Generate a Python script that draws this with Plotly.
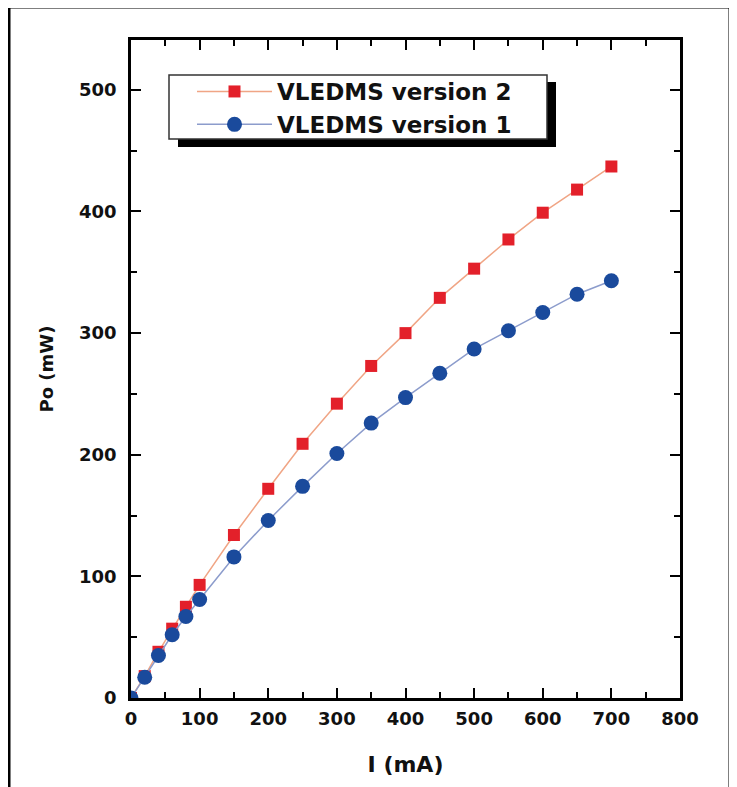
import plotly.graph_objects as go

# data
current = [0, 20, 40, 60, 80, 100, 150, 200, 250, 300, 350, 400, 450, 500, 550, 600, 650, 700]
po_v2 = [0, 18, 38, 57, 75, 93, 134, 172, 209, 242, 273, 300, 329, 353, 377, 399, 418, 437]
po_v1 = [0, 17, 35, 52, 67, 81, 116, 146, 174, 201, 226, 247, 267, 287, 302, 317, 332, 343]

# page has an 8px body margin, so the figure is drawn 8px in from the corner
OFF = 8
W, H = 737 - 2 * OFF, 787 - OFF
L, R, T = 131 - OFF, 737 - 680 - OFF, 40 - OFF
B = H - (698 - OFF)
pw, ph = W - L - R, H - T - B


def px_x(p):
    # screen pixel of the reference -> paper x
    return (p - OFF - L) / pw


def px_y(p):
    return (H - B - (p - OFF)) / ph


bold = dict(family="DejaVu Sans", color="#111", weight="bold")

fig = go.Figure()
fig.add_trace(go.Scatter(
    x=current, y=po_v2, name="VLEDMS version 2", mode="lines+markers",
    line=dict(color="#f0a585", width=1.5),
    marker=dict(symbol="square", size=12, color="#e3202a"),
))
fig.add_trace(go.Scatter(
    x=current, y=po_v1, name="VLEDMS version 1", mode="lines+markers",
    line=dict(color="#8c9ccc", width=1.5),
    marker=dict(symbol="circle", size=15, color="#1a4a9c"),
))

axis = dict(
    showline=True, linecolor="black", linewidth=2.5, mirror="allticks",
    ticks="inside", ticklen=10, tickwidth=2, tickcolor="black",
    showgrid=False, zeroline=False, automargin=False,
    tickfont=dict(size=18, **bold),
    minor=dict(ticks="inside", ticklen=6, tickwidth=2, tickcolor="black", dtick=50),
    dtick=100,
)

fig.update_xaxes(axis, range=[0, 800], ticklabelstandoff=3,
                 title=dict(text="I (mA)", font=dict(size=22, **bold), standoff=29))
fig.update_yaxes(axis, range=[0, 541], ticklabelstandoff=8,
                 title=dict(text="Po (mW)", font=dict(size=18, **bold), standoff=21))

# outer frame
fig.add_shape(type="rect", xref="paper", yref="paper", layer="below",
              x0=px_x(9), x1=px_x(730), y0=px_y(7), y1=px_y(820),
              line=dict(color="black", width=3))
# legend shadow and box
fig.add_shape(type="rect", xref="paper", yref="paper", layer="above",
              x0=px_x(178), x1=px_x(556), y0=px_y(82), y1=px_y(147),
              fillcolor="black", line=dict(width=0))
fig.add_shape(type="rect", xref="paper", yref="paper", layer="above",
              x0=px_x(169), x1=px_x(547), y0=px_y(75), y1=px_y(139),
              fillcolor="white", line=dict(color="#333", width=1.5))

fig.update_layout(
    width=W, height=H,
    margin=dict(l=L, r=R, t=T, b=B),
    paper_bgcolor="white", plot_bgcolor="white",
    legend=dict(x=px_x(192), y=px_y(70), xanchor="left", yanchor="top",
                bgcolor="rgba(0,0,0,0)", borderwidth=0,
                font=dict(size=23, **bold), traceorder="normal",
                itemwidth=75, tracegroupgap=0),
)

fig.write_html("out.html")
